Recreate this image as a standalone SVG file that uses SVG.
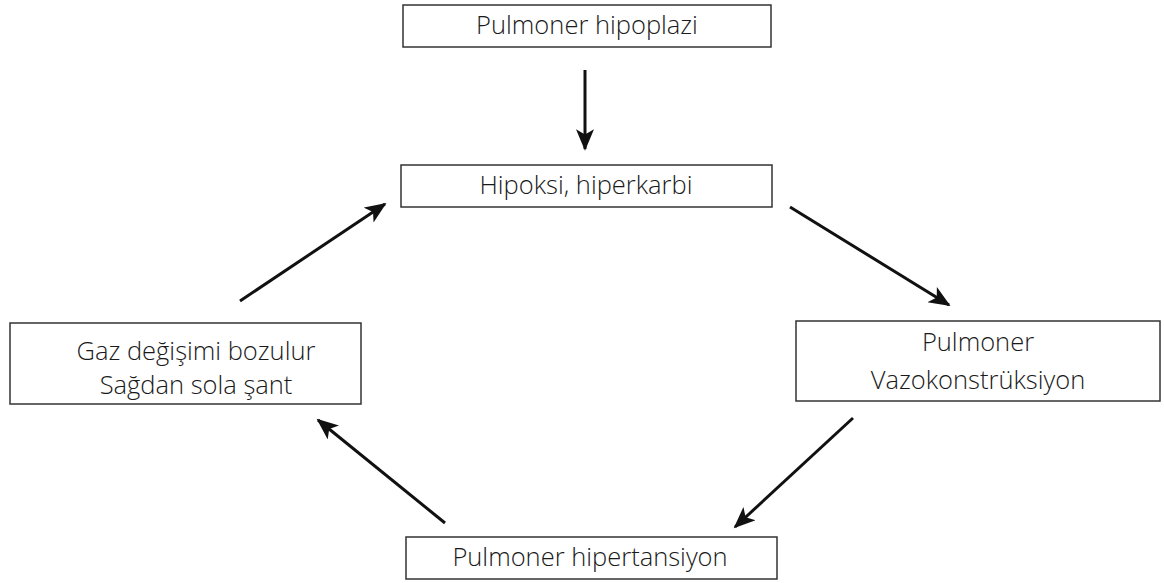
<svg xmlns="http://www.w3.org/2000/svg" width="1164" height="583" viewBox="0 0 1164 583">
<style>
.box{fill:#fff;stroke:#333;stroke-width:1.5}
.t{font-family:"Open Sans","Noto Sans",sans-serif;font-size:25.5px;font-weight:300;fill:#1a1a1a;text-anchor:middle}
.c{stroke:#111;stroke-width:3;fill:none}
</style>
<defs>
<marker id="ah" viewBox="0 0 12 10" refX="11" refY="5" markerWidth="7.5" markerHeight="6" markerUnits="strokeWidth" orient="auto">
<path d="M0,0 L12,5 L0,10 L3,5 Z" fill="#111"/>
</marker>
</defs>
<rect width="1164" height="583" fill="#fff"/>
<g id="n1"><rect class="box" x="403" y="5" width="368" height="42"/><text class="t" x="587" y="34">Pulmoner hipoplazi</text></g>
<g id="n2"><rect class="box" x="401" y="165" width="371" height="42"/><text class="t" x="586" y="194">Hipoksi, hiperkarbi</text></g>
<g id="n3"><rect class="box" x="10" y="323" width="351" height="81"/><text class="t" x="196" y="360">Gaz değişimi bozulur</text><text class="t" x="196" y="394">Sağdan sola şant</text></g>
<g id="n4"><rect class="box" x="796" y="321" width="364" height="80"/><text class="t" x="978" y="351">Pulmoner</text><text class="t" x="978" y="389">Vazokonstrüksiyon</text></g>
<g id="n5"><rect class="box" x="406" y="537" width="371" height="42"/><text class="t" x="590" y="566">Pulmoner hipertansiyon</text></g>
<g id="connectors">
<line class="c" x1="585" y1="70" x2="585" y2="149" marker-end="url(#ah)"/>
<line class="c" x1="240" y1="301" x2="385" y2="204" marker-end="url(#ah)"/>
<line class="c" x1="790" y1="207" x2="949" y2="305" marker-end="url(#ah)"/>
<line class="c" x1="853" y1="418" x2="735" y2="527" marker-end="url(#ah)"/>
<line class="c" x1="445" y1="523" x2="318" y2="420" marker-end="url(#ah)"/>
</g>
</svg>
